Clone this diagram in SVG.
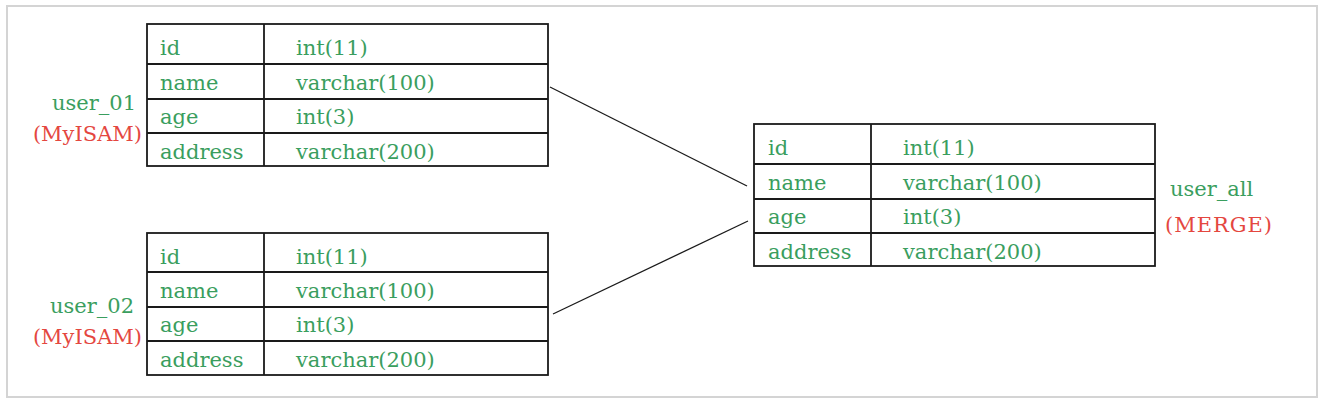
<svg xmlns="http://www.w3.org/2000/svg" width="1327" height="404" viewBox="0 0 1327 404">
<style>
  .frame{fill:#ffffff;stroke:#d4d4d4;stroke-width:2}
  .tb{fill:none;stroke:#1a1a1a;stroke-width:1.8}
  .t{font-family:"DejaVu Serif","Liberation Serif",serif;font-size:21px;fill:#3a9e5e}
  .r{font-family:"DejaVu Serif","Liberation Serif",serif;font-size:21px;fill:#e4473f}
  .e{text-anchor:end}
  .conn{stroke:#1a1a1a;stroke-width:1.3;fill:none}
</style>
<rect x="0" y="0" width="1327" height="404" fill="#ffffff"/>
<rect class="frame" x="7" y="6" width="1310" height="391"/>

<g id="user_01">
  <rect class="tb" x="147" y="24" width="401" height="142"/>
  <path class="tb" d="M264 24V166M147 64H548M147 99H548M147 133H548"/>
  <text class="t" x="160" y="55">id</text><text class="t" x="296" y="55">int(11)</text>
  <text class="t" x="160" y="90">name</text><text class="t" x="296" y="90">varchar(100)</text>
  <text class="t" x="160" y="124">age</text><text class="t" x="296" y="124">int(3)</text>
  <text class="t" x="160" y="159">address</text><text class="t" x="296" y="159">varchar(200)</text>
  <text class="t e" x="136" y="110">user_01</text>
  <text class="r e" x="142" y="141">(MyISAM)</text>
</g>

<g id="user_02">
  <rect class="tb" x="147" y="233" width="401" height="142"/>
  <path class="tb" d="M264 233V375M147 272H548M147 307H548M147 341H548"/>
  <text class="t" x="160" y="264">id</text><text class="t" x="296" y="264">int(11)</text>
  <text class="t" x="160" y="298">name</text><text class="t" x="296" y="298">varchar(100)</text>
  <text class="t" x="160" y="332">age</text><text class="t" x="296" y="332">int(3)</text>
  <text class="t" x="160" y="367">address</text><text class="t" x="296" y="367">varchar(200)</text>
  <text class="t e" x="134" y="313">user_02</text>
  <text class="r e" x="142" y="344">(MyISAM)</text>
</g>

<g id="user_all">
  <rect class="tb" x="754" y="124" width="401" height="142"/>
  <path class="tb" d="M871 124V266M754 164H1155M754 199H1155M754 233H1155"/>
  <text class="t" x="768" y="155">id</text><text class="t" x="903" y="155">int(11)</text>
  <text class="t" x="768" y="190">name</text><text class="t" x="903" y="190">varchar(100)</text>
  <text class="t" x="768" y="224">age</text><text class="t" x="903" y="224">int(3)</text>
  <text class="t" x="768" y="259">address</text><text class="t" x="903" y="259">varchar(200)</text>
  <text class="t" x="1170" y="196">user_all</text>
  <text class="r" x="1165" y="232" textLength="107" lengthAdjust="spacing">(MERGE)</text>
</g>

<g id="connectors">
  <line class="conn" x1="550" y1="87" x2="747" y2="186"/>
  <line class="conn" x1="553" y1="314" x2="748" y2="221"/>
</g>
</svg>
